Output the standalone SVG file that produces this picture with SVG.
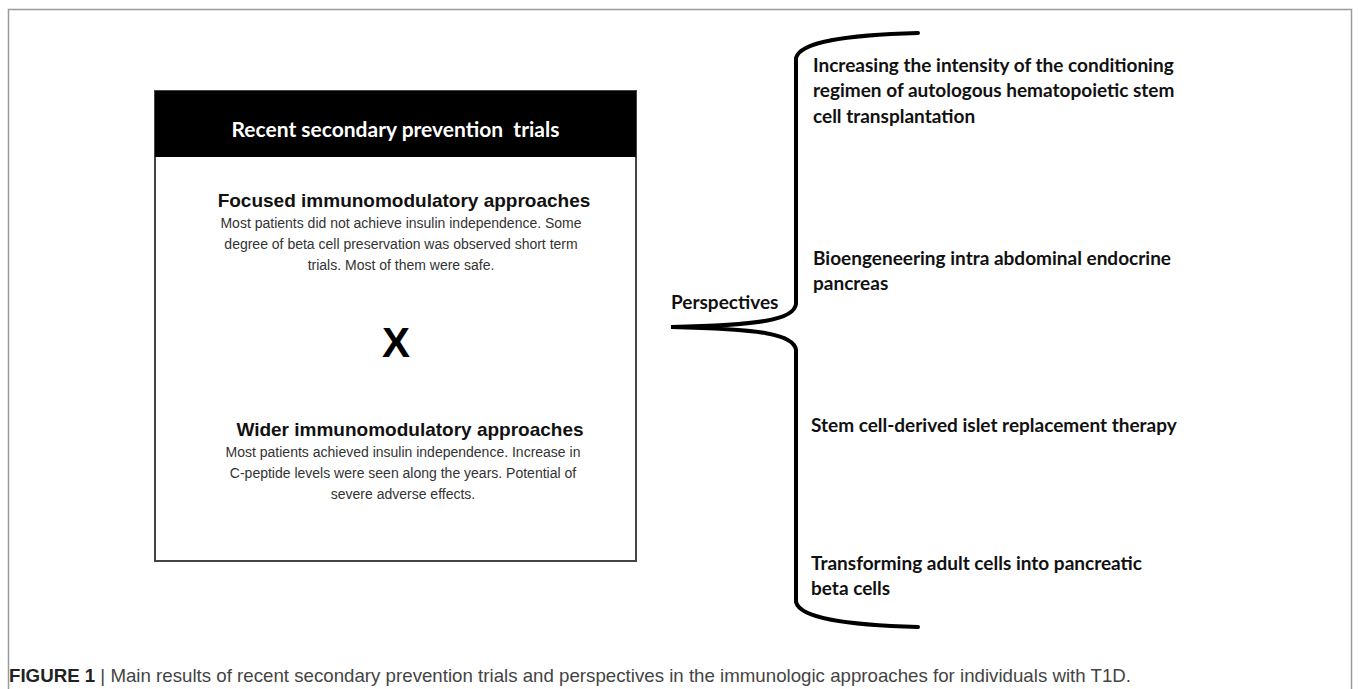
<svg xmlns="http://www.w3.org/2000/svg" width="1358" height="689" viewBox="0 0 1358 689">
<style>
.frame{fill:none;stroke:#9a9a9a;stroke-width:1.5}
.box{fill:#fff;stroke:#444;stroke-width:2}
.hdr{fill:#000}
.hdrtxt{font-family:Lato,"Open Sans",sans-serif;font-weight:700;font-size:21px;fill:#fff;text-anchor:middle}
.ttl{font-family:"Liberation Sans",Arial,sans-serif;font-weight:700;font-size:19px;fill:#111;text-anchor:middle}
.body{font-family:"Liberation Sans",Arial,sans-serif;font-size:14px;fill:#333;text-anchor:middle}
.x{font-family:"Liberation Sans",Arial,sans-serif;font-weight:700;font-size:42px;fill:#000;text-anchor:middle}
.rt{font-family:Lato,"Open Sans",sans-serif;font-weight:700;font-size:19px;fill:#111}
.brace{fill:none;stroke:#000;stroke-width:4;stroke-linecap:round}
.cap{font-family:"Liberation Sans",Arial,sans-serif;font-size:19px;fill:#444}
</style>
<rect width="1358" height="689" fill="#fff"/>
<rect class="frame" x="8.5" y="9.5" width="1343" height="700"/>

<g id="trials-box">
<rect class="box" x="155" y="91" width="481" height="470"/>
<rect class="hdr" x="155" y="91" width="481" height="66"/>
<text class="hdrtxt" x="395.5" y="137" xml:space="preserve">Recent secondary prevention  trials</text>
</g>

<g id="focused">
<text class="ttl" x="404" y="207">Focused immunomodulatory approaches</text>
<text class="body" x="401" y="228">Most patients did not achieve insulin independence. Some</text>
<text class="body" x="401" y="249">degree of beta cell preservation was observed short term</text>
<text class="body" x="401" y="270">trials. Most of them were safe.</text>
</g>

<g id="versus">
<text class="x" x="396" y="357">X</text>
</g>

<g id="wider">
<text class="ttl" x="410" y="436">Wider immunomodulatory approaches</text>
<text class="body" x="403" y="457">Most patients achieved insulin independence. Increase in</text>
<text class="body" x="403" y="478">C-peptide levels were seen along the years. Potential of</text>
<text class="body" x="403" y="499">severe adverse effects.</text>
</g>

<g id="perspectives">
<text class="rt" x="671" y="309">Perspectives</text>
</g>

<g id="connectors">
<path class="brace" d="M918,33 C845,35 800,42 796,58 L796,304 C794,320 760,325 671,327 C760,329 794,334 796,350 L796,602 C800,618 845,625 918,627"/>
</g>

<g id="p1">
<text class="rt" x="813" y="72">Increasing the intensity of the conditioning</text>
<text class="rt" x="813" y="97">regimen of autologous hematopoietic stem</text>
<text class="rt" x="813" y="123">cell transplantation</text>
</g>
<g id="p2">
<text class="rt" x="813" y="265">Bioengeneering intra abdominal endocrine</text>
<text class="rt" x="813" y="290">pancreas</text>
</g>
<g id="p3">
<text class="rt" x="811" y="432">Stem cell-derived islet replacement therapy</text>
</g>
<g id="p4">
<text class="rt" x="811" y="570">Transforming adult cells into pancreatic</text>
<text class="rt" x="811" y="595">beta cells</text>
</g>

<g id="caption">
<text class="cap" x="9" y="682" textLength="1122" lengthAdjust="spacingAndGlyphs"><tspan font-weight="700" fill="#222">FIGURE 1</tspan> | Main results of recent secondary prevention trials and perspectives in the immunologic approaches for individuals with T1D.</text>
</g>
</svg>
